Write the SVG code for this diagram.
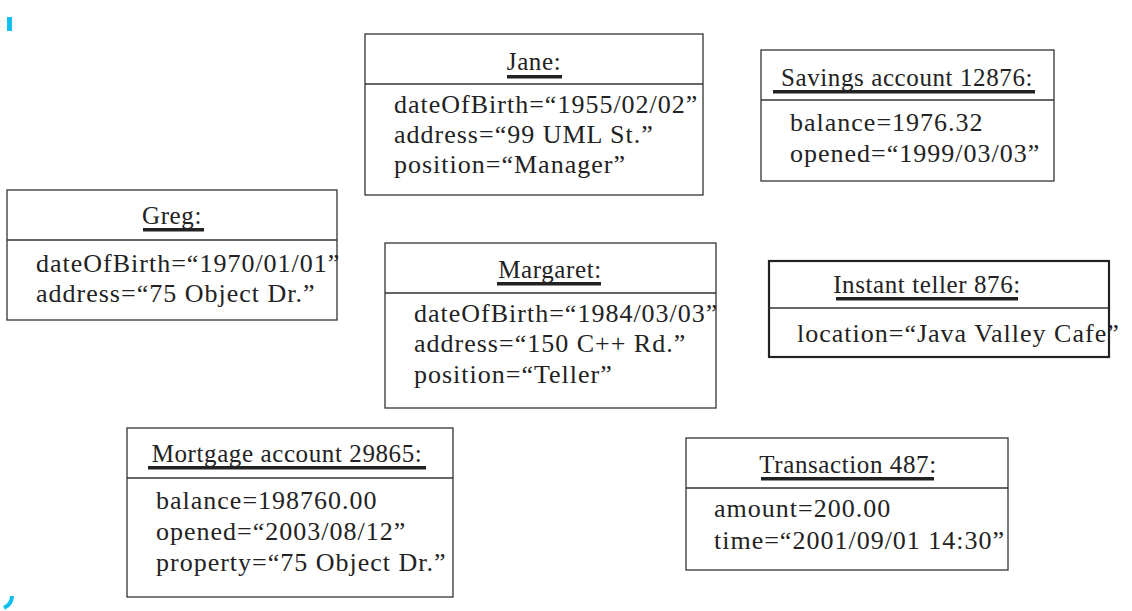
<svg xmlns="http://www.w3.org/2000/svg" width="1132" height="611" viewBox="0 0 1132 611">
<style>
.box{fill:#fff;stroke:#333;stroke-width:1.3}
.thick{stroke:#222;stroke-width:2.2}
.div{stroke:#333;stroke-width:1.3}
text{font-family:"Liberation Serif",serif;font-size:26px;letter-spacing:1px;fill:#222}
.t{text-anchor:middle;font-size:25px;letter-spacing:0.6px}
.ul{fill:#222}
</style>
<rect width="1132" height="611" fill="#fff"/>
<rect x="7" y="17" width="5" height="14" fill="#10bff0"/>
<path d="M4 608 Q12 604 12 596" stroke="#10bff0" stroke-width="4" fill="none"/>
<g id="jane">
<rect class="box" x="365" y="34" width="338" height="161"/><line class="div" x1="365" y1="84" x2="703" y2="84"/>
<text class="t" x="534" y="70">Jane:</text><rect class="ul" x="507" y="75" width="55" height="3.5"/>
<text x="394" y="113">dateOfBirth=“1955/02/02”</text><text x="394" y="143">address=“99 UML St.”</text><text x="394" y="173">position=“Manager”</text>
</g>
<g id="savings">
<rect class="box" x="761" y="50" width="293" height="131"/><line class="div" x1="761" y1="100" x2="1054" y2="100"/>
<text class="t" x="907" y="86">Savings account 12876:</text><rect class="ul" x="773" y="90" width="262" height="3.5"/>
<text x="790" y="131">balance=1976.32</text><text x="790" y="162">opened=“1999/03/03”</text>
</g>
<g id="greg">
<rect class="box" x="7" y="190" width="330" height="130"/><line class="div" x1="7" y1="240" x2="337" y2="240"/>
<text class="t" x="172" y="224">Greg:</text><rect class="ul" x="143" y="228" width="61" height="3.5"/>
<text x="36" y="272">dateOfBirth=“1970/01/01”</text><text x="36" y="302">address=“75 Object Dr.”</text>
</g>
<g id="margaret">
<rect class="box" x="385" y="243" width="331" height="165"/><line class="div" x1="385" y1="293" x2="716" y2="293"/>
<text class="t" x="550" y="278">Margaret:</text><rect class="ul" x="497" y="282" width="104" height="3.5"/>
<text x="414" y="322">dateOfBirth=“1984/03/03”</text><text x="414" y="352">address=“150 C++ Rd.”</text><text x="414" y="383">position=“Teller”</text>
</g>
<g id="teller">
<rect class="box thick" x="769" y="261" width="340" height="96"/><line class="div" x1="769" y1="308" x2="1109" y2="308"/>
<text class="t" x="927" y="293">Instant teller 876:</text><rect class="ul" x="836" y="297" width="182" height="3.5"/>
<text x="797" y="342">location=“Java Valley Cafe”</text>
</g>
<g id="mortgage">
<rect class="box" x="127" y="428" width="326" height="169"/><line class="div" x1="127" y1="478" x2="453" y2="478"/>
<text class="t" x="287" y="462">Mortgage account 29865:</text><rect class="ul" x="148" y="466" width="278" height="3.5"/>
<text x="156" y="509">balance=198760.00</text><text x="156" y="540">opened=“2003/08/12”</text><text x="156" y="571">property=“75 Object Dr.”</text>
</g>
<g id="transaction">
<rect class="box" x="686" y="438" width="322" height="132"/><line class="div" x1="686" y1="488" x2="1008" y2="488"/>
<text class="t" x="848" y="473">Transaction 487:</text><rect class="ul" x="761" y="477" width="173" height="3.5"/>
<text x="714" y="517">amount=200.00</text><text x="714" y="549">time=“2001/09/01 14:30”</text>
</g>
<g id="connectors"/>
</svg>
